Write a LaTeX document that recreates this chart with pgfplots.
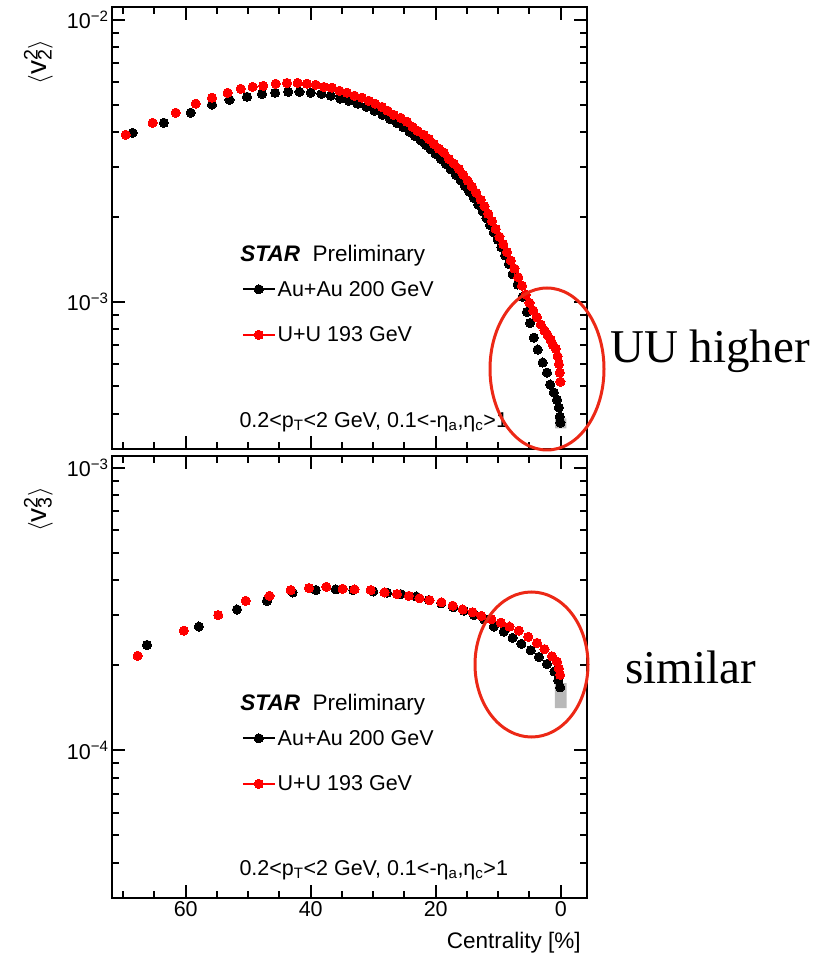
\documentclass[border=0pt]{standalone}
\usepackage{pgfplots}
\pgfplotsset{compat=1.18}
\usepackage{fontspec}
\setmainfont{Liberation Sans}
\newfontfamily\timesfont{Liberation Serif}
\definecolor{rootred}{RGB}{255,0,0}
\definecolor{ellred}{RGB}{236,40,22}

\newcommand{\cuts}{0.2<p\textsubscript{T}<2 GeV, 0.1<-η\textsubscript{a},η\textsubscript{c}>1}
\newcommand{\fs}{\fontsize{21.5}{25}\selectfont}

\begin{document}
\begin{tikzpicture}
\useasboundingbox (0pt,0pt) rectangle (819pt,956pt);

% ---------------- top panel: v2^2
\begin{axis}[at={(112pt,507pt)}, anchor=south west,
  scale only axis, width=475pt, height=442pt,
  x dir=reverse, xmin=-4.2, xmax=71.8,
  ymode=log, ymin=3e-4, ymax=1.11e-2,
  axis line style={line width=2.2pt},
  every tick/.style={line width=2pt, black},
  major tick length=13pt, minor tick length=7pt,
  tick align=inside,
  xtick={0,20,40,60}, xticklabels={},
  minor xtick={5,10,15,25,30,35,45,50,55,65,70},
  ytick={1e-3,1e-2}, yticklabels={10\textsuperscript{−3},10\textsuperscript{−2}},
  minor ytick={4e-4,5e-4,6e-4,7e-4,8e-4,9e-4,2e-3,3e-3,4e-3,5e-3,6e-3,7e-3,8e-3,9e-3},
  tick label style={font=\fs},
  ylabel={$\langle$v\rlap{\textsuperscript{2}}\textsubscript{2}$\rangle$},
  ylabel style={at={(axis description cs:-0.155,0.875)}, anchor=center, font=\fontsize{28}{32}\selectfont},
  legend style={at={(axis description cs:0.273,0.385)}, anchor=north west, draw=none, fill=none,
      font=\fs, row sep=25pt, inner sep=0pt},
  legend cell align=left,
  legend image code/.code={\draw[#1, line width=1.8pt] (0pt,0pt) -- (32pt,0pt); \draw[#1] plot coordinates {(16pt,0pt)};},
]
\addplot[fill=gray!55, draw=none, forget plot] coordinates {(0.9,3.55e-4) (-0.9,3.55e-4) (-0.9,3.85e-4) (0.9,3.85e-4) (0.9,3.55e-4)};
\addplot[black, only marks, mark=*, mark size=4.6pt, mark options={draw=black, fill=black, line width=0pt}] coordinates {
(68.5,3.97e-3)(63.5,4.31e-3)(59.2,4.68e-3)(55.8,5.00e-3)(53.0,5.20e-3)(50.2,5.33e-3)(47.8,5.46e-3)
(45.7,5.51e-3)(43.6,5.55e-3)(41.8,5.55e-3)(40.0,5.51e-3)(38.3,5.46e-3)(36.8,5.38e-3)(35.3,5.25e-3)
(33.9,5.16e-3)(32.5,5.04e-3)(31.1,4.91e-3)(29.8,4.76e-3)(28.5,4.60e-3)(27.3,4.45e-3)(26.2,4.30e-3)
(25.2,4.16e-3)(24.2,4.01e-3)(23.3,3.87e-3)(22.4,3.73e-3)(21.6,3.60e-3)(20.8,3.47e-3)(20.0,3.34e-3)
(19.2,3.21e-3)(18.4,3.08e-3)(17.6,2.95e-3)(16.8,2.82e-3)(16.0,2.69e-3)(15.3,2.57e-3)(14.6,2.45e-3)
(13.9,2.33e-3)(13.2,2.21e-3)(12.5,2.09e-3)(11.9,1.98e-3)(11.3,1.87e-3)(10.7,1.76e-3)(10.1,1.66e-3)
(9.5,1.56e-3)(8.9,1.46e-3)(8.3,1.36e-3)(7.7,1.25e-3)(6.9,1.15e-3)(6.1,1.04e-3)(5.4,9.2e-4)
(4.9,8.4e-4)(4.3,7.45e-4)(3.7,6.76e-4)(2.9,6.08e-4)(2.2,5.6e-4)(1.7,5.08e-4)(1.1,4.76e-4)
(0.6,4.49e-4)(0.3,4.21e-4)(0.15,3.91e-4)(0.05,3.72e-4)
};
\addlegendentry{Au+Au 200 GeV}
\addplot[rootred, only marks, mark=*, mark size=4.6pt, mark options={draw=rootred, fill=rootred, line width=0pt}] coordinates {
(69.6,3.91e-3)(65.3,4.31e-3)(61.6,4.68e-3)(58.4,5.04e-3)(55.8,5.29e-3)(53.3,5.51e-3)(51.2,5.69e-3)
(49.3,5.78e-3)(47.6,5.83e-3)(45.6,5.93e-3)(43.8,5.97e-3)(42.1,5.97e-3)(40.6,5.93e-3)(39.2,5.88e-3)
(37.9,5.78e-3)(36.6,5.74e-3)(35.4,5.60e-3)(34.2,5.51e-3)(33.0,5.38e-3)(31.8,5.29e-3)(30.7,5.16e-3)
(29.7,5.04e-3)(28.6,4.91e-3)(27.7,4.76e-3)(26.7,4.60e-3)(25.6,4.49e-3)(24.6,4.35e-3)(23.7,4.17e-3)
(22.9,4.04e-3)(21.9,3.91e-3)(21.1,3.78e-3)(20.3,3.63e-3)(19.5,3.49e-3)(18.7,3.38e-3)(17.9,3.21e-3)
(17.1,3.09e-3)(16.3,2.96e-3)(15.6,2.82e-3)(14.9,2.69e-3)(14.2,2.56e-3)(13.5,2.43e-3)(12.8,2.30e-3)
(12.2,2.18e-3)(11.6,2.05e-3)(11.0,1.93e-3)(10.4,1.81e-3)(9.8,1.70e-3)(9.2,1.60e-3)(8.6,1.50e-3)
(8.0,1.40e-3)(7.4,1.31e-3)(6.8,1.22e-3)(6.2,1.14e-3)(5.6,1.06e-3)(5.0,9.9e-4)(4.4,9.3e-4)
(3.8,8.8e-4)(3.2,8.3e-4)(2.6,7.9e-4)(2.1,7.6e-4)(1.6,7.3e-4)(1.2,7.0e-4)(0.8,6.8e-4)
(0.5,6.4e-4)(0.3,6.0e-4)(0.15,5.6e-4)(0.05,5.2e-4)
};
\addlegendentry{U+U 193 GeV}
\node[anchor=west, font=\fontsize{22.5}{26}\selectfont] at (axis description cs:0.263,0.437) {\textbf{\textit{STAR}}\ \ Preliminary};
\node[anchor=west, font=\fs] at (axis description cs:0.261,0.061) {\cuts};
\end{axis}

% ---------------- bottom panel: v3^2
\begin{axis}[at={(112pt,58pt)}, anchor=south west,
  scale only axis, width=475pt, height=442pt,
  x dir=reverse, xmin=-4.2, xmax=71.8,
  ymode=log, ymin=3e-5, ymax=1.1e-3,
  axis line style={line width=2.2pt},
  every tick/.style={line width=2pt, black},
  major tick length=13pt, minor tick length=7pt,
  tick align=inside,
  xtick={0,20,40,60}, xticklabels={0,20,40,60},
  minor xtick={5,10,15,25,30,35,45,50,55,65,70},
  ytick={1e-4,1e-3}, yticklabels={10\textsuperscript{−4},10\textsuperscript{−3}},
  minor ytick={4e-5,5e-5,6e-5,7e-5,8e-5,9e-5,2e-4,3e-4,4e-4,5e-4,6e-4,7e-4,8e-4,9e-4},
  tick label style={font=\fs},
  ylabel={$\langle$v\rlap{\textsuperscript{2}}\textsubscript{3}$\rangle$},
  ylabel style={at={(axis description cs:-0.155,0.879)}, anchor=center, font=\fontsize{28}{32}\selectfont},
  xlabel={Centrality [\%]},
  xlabel style={at={(axis description cs:0.994,-0.1)}, anchor=east, font=\fontsize{22.5}{26}\selectfont},
  legend style={at={(axis description cs:0.273,0.385)}, anchor=north west, draw=none, fill=none,
      font=\fs, row sep=25pt, inner sep=0pt},
  legend cell align=left,
  legend image code/.code={\draw[#1, line width=1.8pt] (0pt,0pt) -- (32pt,0pt); \draw[#1] plot coordinates {(16pt,0pt)};},
]
\addplot[fill=gray!55, draw=none, forget plot] coordinates {(0.95,1.41e-4) (-0.95,1.41e-4) (-0.95,1.73e-4) (0.95,1.73e-4) (0.95,1.41e-4)};
\addplot[black, only marks, mark=*, mark size=4.6pt, mark options={draw=black, fill=black, line width=0pt}] coordinates {
(66.2,2.36e-4)(57.9,2.74e-4)(51.8,3.15e-4)(47.0,3.38e-4)(42.9,3.62e-4)(39.2,3.69e-4)(36.0,3.71e-4)
(33.2,3.69e-4)(30.0,3.65e-4)(27.8,3.61e-4)(25.6,3.57e-4)(23.1,3.50e-4)(21.1,3.40e-4)(19.1,3.31e-4)
(17.2,3.21e-4)(15.5,3.12e-4)(13.9,3.01e-4)(12.3,2.91e-4)(10.7,2.74e-4)(9.1,2.63e-4)(7.7,2.50e-4)
(6.3,2.38e-4)(4.8,2.26e-4)(3.5,2.14e-4)(2.2,2.02e-4)(1.0,1.90e-4)(0.4,1.77e-4)(0.1,1.67e-4)
};
\addlegendentry{Au+Au 200 GeV}
\addplot[rootred, only marks, mark=*, mark size=4.6pt, mark options={draw=rootred, fill=rootred, line width=0pt}] coordinates {
(67.7,2.16e-4)(60.3,2.65e-4)(54.8,3.01e-4)(50.4,3.38e-4)(46.6,3.52e-4)(43.2,3.69e-4)(40.3,3.75e-4)
(37.5,3.79e-4)(34.9,3.73e-4)(33.0,3.71e-4)(30.4,3.69e-4)(28.2,3.62e-4)(26.2,3.57e-4)(24.3,3.52e-4)
(22.6,3.45e-4)(21.0,3.40e-4)(19.1,3.34e-4)(17.3,3.25e-4)(15.7,3.15e-4)(14.1,3.08e-4)(12.7,2.99e-4)
(11.1,2.91e-4)(9.6,2.83e-4)(8.2,2.74e-4)(6.7,2.65e-4)(5.2,2.52e-4)(3.8,2.40e-4)(2.6,2.28e-4)
(1.4,2.15e-4)(0.6,2.06e-4)(0.3,1.95e-4)(0.1,1.85e-4)
};
\addlegendentry{U+U 193 GeV}
\node[anchor=west, font=\fontsize{22.5}{26}\selectfont] at (axis description cs:0.263,0.437) {\textbf{\textit{STAR}}\ \ Preliminary};
\node[anchor=west, font=\fs] at (axis description cs:0.261,0.063) {\cuts};
\end{axis}

% ---------------- annotations
\draw[ellred, line width=3pt] (547pt,587pt) ellipse [x radius=57pt, y radius=81pt];
\draw[ellred, line width=3pt] (531.5pt,291.5pt) ellipse [x radius=56.5pt, y radius=72.5pt];
\node[anchor=base west, inner sep=0pt, font=\timesfont\fontsize{47}{50}\selectfont] at (610pt,593pt) {UU higher};
\node[anchor=base west, inner sep=0pt, font=\timesfont\fontsize{47}{50}\selectfont] at (625pt,272pt) {similar};
\end{tikzpicture}
\end{document}
